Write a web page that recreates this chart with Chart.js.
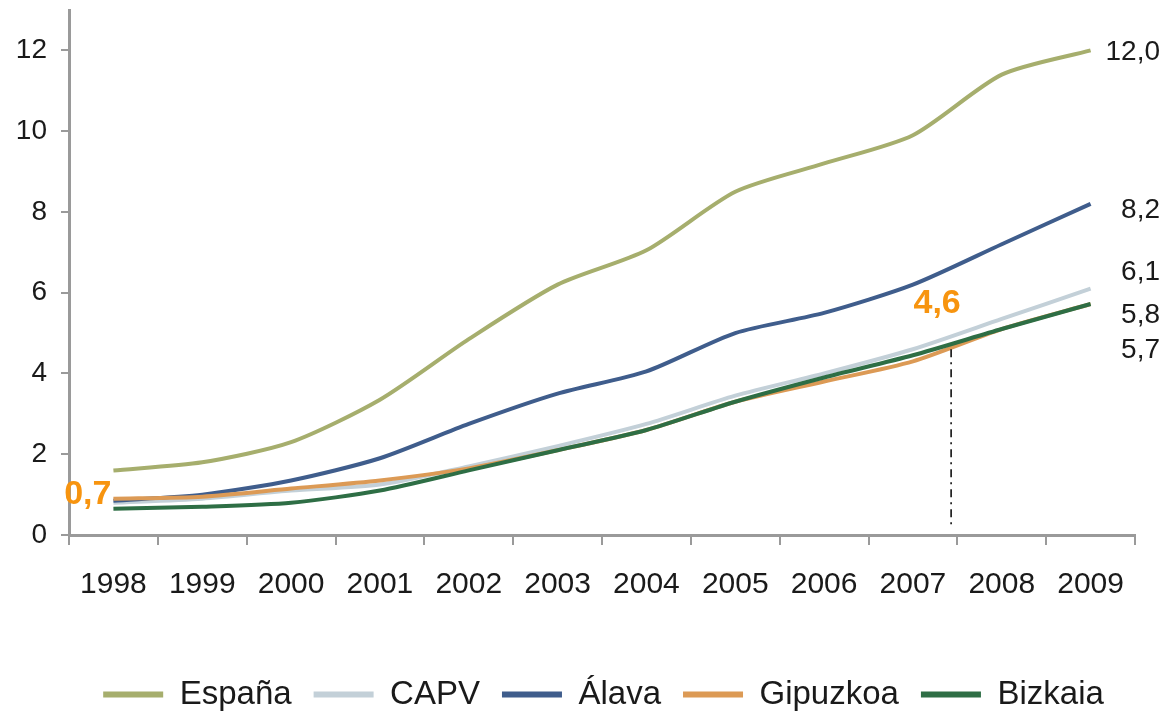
<!DOCTYPE html>
<html>
<head>
<meta charset="utf-8">
<script src="https://cdn.jsdelivr.net/npm/chart.js@4.4.1/dist/chart.umd.min.js"></script>
<style>
  html, body { margin: 0; padding: 0; background: #ffffff; }
  #wrap { width: 1167px; height: 711px; }
</style>
</head>
<body>
<div id="wrap"><canvas id="c" width="1167" height="711"></canvas></div>
<script>
// ---- data ----
const years = ['1998','1999','2000','2001','2002','2003','2004','2005','2006','2007','2008','2009'];
const espana   = [1.6, 1.8, 2.3, 3.35, 4.85, 6.2, 7.05, 8.5, 9.2, 9.9, 11.4, 12.0];
const capv     = [0.8, 0.9, 1.1, 1.25, 1.7, 2.2, 2.75, 3.45, 4.0, 4.6, 5.35, 6.1];
const alava    = [0.85, 1.0, 1.35, 1.9, 2.75, 3.5, 4.05, 5.0, 5.5, 6.2, 7.2, 8.2];
const gipuzkoa = [0.9, 0.95, 1.15, 1.35, 1.65, 2.1, 2.6, 3.3, 3.8, 4.3, 5.1, 5.72];
const bizkaia  = [0.65, 0.7, 0.8, 1.1, 1.6, 2.1, 2.6, 3.3, 3.9, 4.45, 5.1, 5.72];
const seriesNames = ['España', 'CAPV', 'Álava', 'Gipuzkoa', 'Bizkaia'];
const endLabels = ['12,0', '8,2', '6,1', '5,8', '5,7'];
const startLabel = '0,7';
const markerLabel = '4,6';
const markerValue = 4.6;

// ---- styling (not data) ----
const colors = ['#a6ae6d', '#c3d0d8', '#3f5d8c', '#dc9a55', '#2e6e45'];
const drawOrder = [4, 3, 2, 1, 0];
const endLabelYPos = [12.0, 8.1, 6.55, 5.5, 4.62];
const markerIndex = 9.43;
const legendShift = 40;
const FONT = "'Liberation Sans', Arial, sans-serif";

const annotations = {
  id: 'annotations',
  afterLayout(chart) {
    if (chart.legend) { chart.legend.left += legendShift; }
  },
  afterDatasetsDraw(chart) {
    const { ctx, scales: { x, y }, chartArea } = chart;
    ctx.save();
    // dashed marker line
    const mx = x.getPixelForValue(markerIndex);
    const my = y.getPixelForValue(markerValue);
    ctx.strokeStyle = '#111';
    ctx.lineWidth = 1.6;
    ctx.setLineDash([8, 5, 2, 5]);
    ctx.beginPath();
    ctx.moveTo(mx, my);
    ctx.lineTo(mx, y.getPixelForValue(0.25));
    ctx.stroke();
    ctx.setLineDash([]);
    // orange labels
    ctx.fillStyle = '#f7940f';
    ctx.font = "bold 34px " + FONT;
    ctx.textAlign = 'center';
    ctx.textBaseline = 'middle';
    ctx.fillText(markerLabel, mx - 14, my - 46);
    ctx.textAlign = 'right';
    const sx = x.getPixelForValue(0);
    const sy = y.getPixelForValue(bizkaia[0]);
    ctx.fillText(startLabel, sx - 2, sy - 14);
    // end labels
    ctx.fillStyle = '#1a1a1a';
    ctx.font = "28px " + FONT;
    ctx.textAlign = 'right';
    endLabels.forEach((t, i) => {
      ctx.fillText(t, chartArea.right + 25, y.getPixelForValue(endLabelYPos[i]) + 2);
    });
    ctx.restore();
  }
};

const seriesData = [espana, capv, alava, gipuzkoa, bizkaia];
const datasets = seriesNames.map((name, i) => ({
  label: name,
  data: seriesData[i],
  borderColor: colors[i],
  backgroundColor: colors[i],
  borderWidth: 4,
  pointRadius: 0,
  tension: 0.25,
  fill: false,
  order: drawOrder[i]
}));

new Chart(document.getElementById('c'), {
  type: 'line',
  data: { labels: years, datasets },
  options: {
    responsive: false,
    animation: false,
    layout: { padding: { top: 10, right: 0, left: 0, bottom: -10 } },
    plugins: {
      tooltip: { enabled: false },
      legend: {
        position: 'bottom',
        labels: {
          usePointStyle: true,
          pointStyle: 'line',
          pointStyleWidth: 60,
          boxHeight: 6,
          padding: 22,
          color: '#1a1a1a',
          font: { family: FONT, size: 33 },
          sort: (a, b) => a.datasetIndex - b.datasetIndex,
          generateLabels: (chart) => {
            const items = Chart.defaults.plugins.legend.labels.generateLabels(chart);
            return items.map(it => Object.assign(it, { lineWidth: 6, pointStyle: 'line' }));
          }
        }
      }
    },
    scales: {
      x: {
        type: 'category',
        offset: true,
        grid: { display: true, drawOnChartArea: false, offset: true, drawTicks: true, tickLength: 10, color: '#9a9a9a', lineWidth: 2 },
        border: { display: true, color: '#9a9a9a', width: 3 },
        ticks: { color: '#1a1a1a', font: { family: FONT, size: 30 }, padding: 22, maxRotation: 0, autoSkip: false },
        afterFit: (s) => { s.height = 121; s.paddingLeft = 0; s.paddingRight = 0; }
      },
      y: {
        min: 0,
        max: 13,
        grid: { display: true, drawOnChartArea: false, drawTicks: true, tickLength: 8, color: '#9a9a9a', lineWidth: 2 },
        border: { display: true, color: '#9a9a9a', width: 3 },
        ticks: { stepSize: 2, color: '#1a1a1a', font: { family: FONT, size: 28 }, padding: 14 },
        afterBuildTicks: (s) => { s.ticks = s.ticks.filter(t => t.value % 2 === 0); },
        afterFit: (s) => { s.width = 69; s.paddingTop = 0; s.paddingBottom = 0; }
      },
      yRight: {
        position: 'right',
        display: true,
        min: 0,
        max: 13,
        grid: { display: false },
        border: { display: false },
        ticks: { display: false },
        afterFit: (s) => { s.width = 32; s.paddingTop = 0; s.paddingBottom = 0; }
      }
    }
  },
  plugins: [annotations]
});
</script>
</body>
</html>
